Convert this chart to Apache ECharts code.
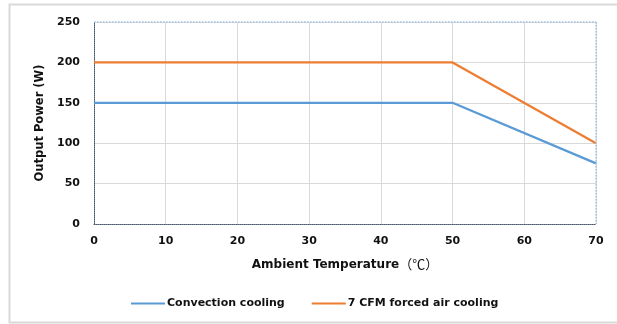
<!DOCTYPE html>
<html><head><meta charset="utf-8">
<script src="https://cdn.jsdelivr.net/npm/echarts@6/dist/echarts.min.js"></script>
<style>html,body{margin:0;padding:0;background:#fff}#c{width:617px;height:324px}</style>
</head><body><div id="c"></div>
<script>
const temps = [0, 50, 70];
const convection = [150, 150, 75];
const forced = [200, 200, 100];
const seriesNames = ['Convection cooling', '7 CFM forced air cooling'];
const xTitle = 'Ambient Temperature';
const xUnit = '（℃）';
const yTitle = 'Output Power (W)';

const font = '"DejaVu Sans", Verdana, "Noto Sans CJK SC", sans-serif';
const cjk = '"Noto Sans CJK SC", sans-serif';
const chart = echarts.init(document.getElementById('c'), null, {renderer: 'canvas'});
chart.setOption({
  animation: false,
  backgroundColor: '#fff',
  graphic: [{
    type: 'polyline', shape: {points: [[640, 4.5], [9.5, 4.5], [9.5, 322.5], [640, 322.5]]},
    style: {fill: null, stroke: '#d9d9d9', lineWidth: 2}, silent: true
  }],
  grid: {left: 94, right: 21, top: 22, bottom: 100, containLabel: false},
  xAxis: {
    type: 'value', min: 0, max: 70, interval: 10,
    name: '{a|' + xTitle + '}{b|' + xUnit + '}', nameLocation: 'middle', nameGap: 34,
    nameTextStyle: {fontFamily: font, fontWeight: 'bold', fontSize: 12, color: '#111',
      rich: {a: {fontFamily: font, fontWeight: 'bold', fontSize: 12, color: '#111'},
             b: {fontFamily: cjk, fontWeight: 'normal', fontSize: 13, color: '#111'}}},
    axisLine: {lineStyle: {color: '#44546a', type: 'dotted', width: 1}},
    axisTick: {show: false},
    axisLabel: {fontFamily: font, fontWeight: 'bold', fontSize: 11, color: '#111', margin: 12},
    splitLine: {lineStyle: {color: '#d9d9d9', width: 1}}
  },
  yAxis: {
    type: 'value', min: 0, max: 250, interval: 50,
    name: yTitle, nameLocation: 'middle', nameGap: 45, nameRotate: 90,
    nameTextStyle: {fontFamily: font, fontWeight: 'bold', fontSize: 11.5, color: '#111'},
    axisLine: {show: true, lineStyle: {color: '#44546a', type: 'dotted', width: 1}},
    axisTick: {show: false},
    axisLabel: {fontFamily: font, fontWeight: 'bold', fontSize: 11, color: '#111', margin: 14},
    splitLine: {lineStyle: {color: '#d9d9d9', width: 1}}
  },
  legend: {
    top: 293, left: 126, itemWidth: 34, itemHeight: 2, itemGap: 27,
    icon: 'rect',
    textStyle: {fontFamily: font, fontWeight: 'bold', fontSize: 11, color: '#111', padding: [0, 0, 0, -3]},
    data: seriesNames
  },
  series: [
    {name: seriesNames[0], type: 'line', data: temps.map((t, i) => [t, convection[i]]),
     symbol: 'none', lineStyle: {color: '#5b9bd5', width: 2.25}, itemStyle: {color: '#5b9bd5'}},
    {name: seriesNames[1], type: 'line', data: temps.map((t, i) => [t, forced[i]]),
     symbol: 'none', lineStyle: {color: '#ed7d31', width: 2.25}, itemStyle: {color: '#ed7d31'},
     markLine: {silent: true, symbol: 'none', label: {show: false},
       lineStyle: {color: '#9dc3e6', type: 'dotted', width: 1.5},
       data: [[{coord: [0, 250]}, {coord: [70, 250]}], [{coord: [70, 250]}, {coord: [70, 0]}]]}}
  ]
});
</script></body></html>
